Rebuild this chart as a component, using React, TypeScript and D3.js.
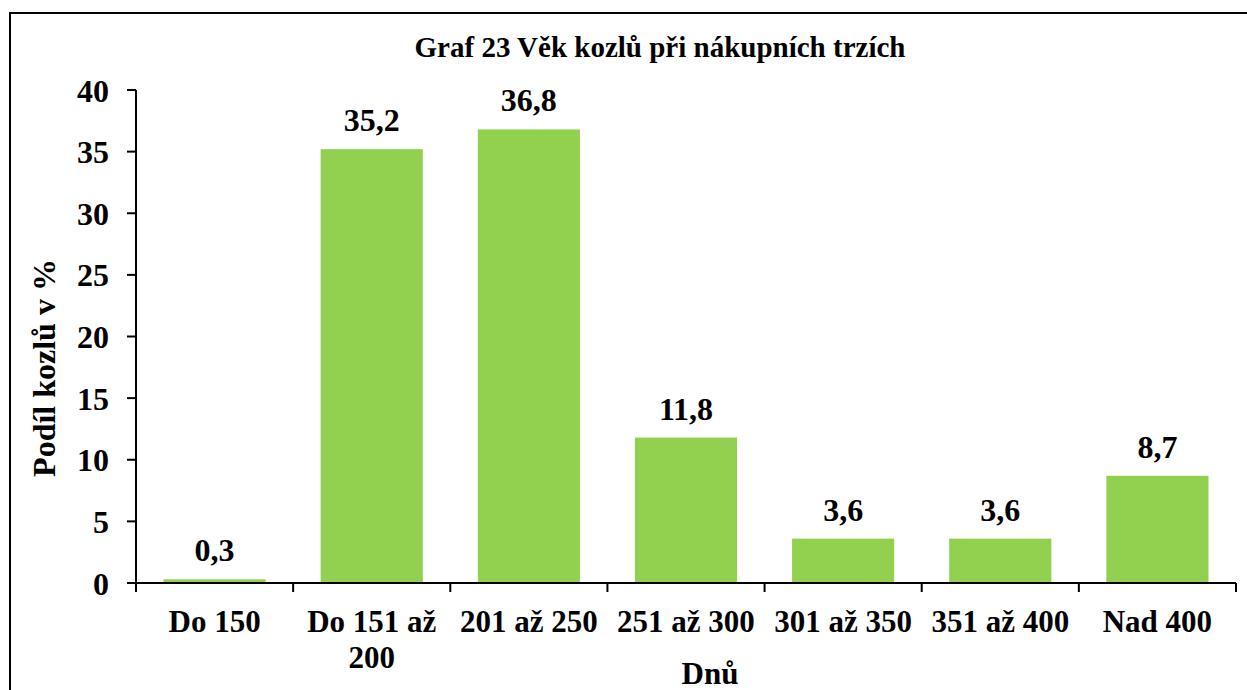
import React from "react";
import * as d3 from "d3";

const categories = ["Do 150", "Do 151 až 200", "201 až 250", "251 až 300", "301 až 350", "351 až 400", "Nad 400"];
const categoryLines = [["Do 150"], ["Do 151 až", "200"], ["201 až 250"], ["251 až 300"], ["301 až 350"], ["351 až 400"], ["Nad 400"]];
const values = [0.3, 35.2, 36.8, 11.8, 3.6, 3.6, 8.7];
const valueLabels = ["0,3", "35,2", "36,8", "11,8", "3,6", "3,6", "8,7"];
const yTicks = [0, 5, 10, 15, 20, 25, 30, 35, 40];
const title = "Graf 23 Věk kozlů při nákupních trzích";
const yTitle = "Podíl kozlů v %";
const xTitle = "Dnů";

const W = 1247;
const H = 690;
const left = 136;
const right = 1236;
const top = 90;
const bottom = 583;
const FONT = "'Liberation Serif', 'Times New Roman', serif";

export default function App() {
  const x = d3.scaleBand<string>().domain(categories).range([left, right]).paddingInner(0.35).paddingOuter(0.175);
  const y = d3.scaleLinear().domain([0, 40]).range([bottom, top]);
  const step = x.step();
  const boundaries = d3.range(categories.length + 1).map((i) => left + i * step);

  return (
    <svg width={W} height={H} style={{ position: "absolute", left: 0, top: 0, background: "#fff" }} fontFamily={FONT} fontWeight="bold">
      <rect x={10} y={13} width={W + 20} height={H + 20} fill="#fff" stroke="#000" strokeWidth={2} />
      <text x={660} y={57} textAnchor="middle" fontSize={29}>{title}</text>
      {categories.map((c, i) => (
        <rect key={c} x={x(c)} y={y(values[i])} width={x.bandwidth()} height={bottom - y(values[i])} fill="#92D050" />
      ))}
      {categories.map((c, i) => (
        <text key={c + "l"} x={(x(c) as number) + x.bandwidth() / 2} y={y(values[i]) - 18} textAnchor="middle" fontSize={32}>{valueLabels[i]}</text>
      ))}
      <line x1={left} x2={left} y1={top} y2={bottom} stroke="#000" strokeWidth={2} />
      {yTicks.map((t) => (
        <g key={t}>
          <line x1={left - 9} x2={left} y1={y(t)} y2={y(t)} stroke="#000" strokeWidth={2} />
          <text x={109} y={y(t)} dy="0.36em" textAnchor="end" fontSize={32}>{t}</text>
        </g>
      ))}
      <line x1={left - 9} x2={right} y1={bottom} y2={bottom} stroke="#000" strokeWidth={2} />
      {boundaries.map((b, i) => (
        <line key={i} x1={b} x2={b} y1={bottom} y2={bottom + 9} stroke="#000" strokeWidth={2} />
      ))}
      {categories.map((c, i) => (
        <text key={c + "c"} x={(x(c) as number) + x.bandwidth() / 2} y={632} textAnchor="middle" fontSize={31}>
          {categoryLines[i].map((ln, j) => (
            <tspan key={j} x={(x(c) as number) + x.bandwidth() / 2} dy={j === 0 ? 0 : 36}>{ln}</tspan>
          ))}
        </text>
      ))}
      <text x={710} y={684} textAnchor="middle" fontSize={31}>{xTitle}</text>
      <text transform={`translate(55,368) rotate(-90)`} textAnchor="middle" fontSize={32}>{yTitle}</text>
    </svg>
  );
}
